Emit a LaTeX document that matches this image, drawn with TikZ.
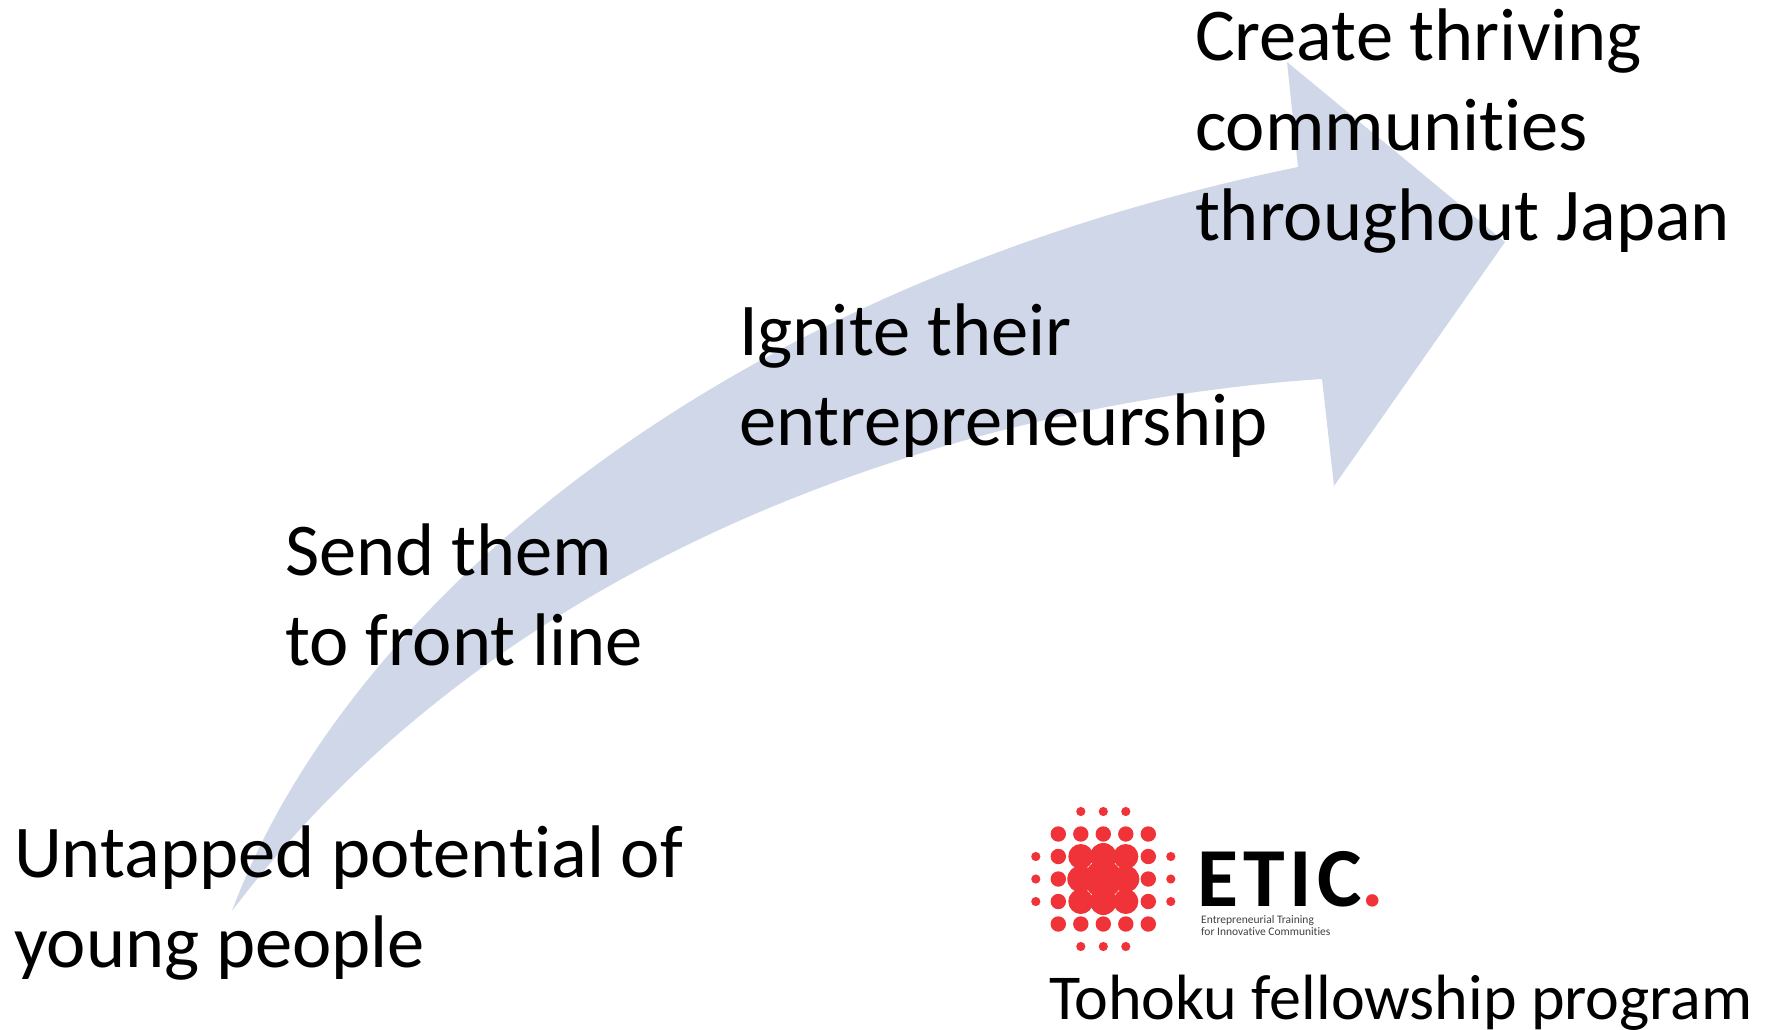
\documentclass[tikz,border=0pt]{standalone}
\usepackage{fontspec}
\setmainfont[Ligatures=NoCommon]{Carlito}
\newfontfamily\logofont[LetterSpace=6]{Carlito}
\definecolor{arrowfill}{HTML}{CFD7E8}
\definecolor{eticred}{HTML}{EF3338}
\tikzset{
  lbl/.style={anchor=base west,inner sep=0pt,outer sep=0pt,font=\fontsize{74.5}{90}\selectfont,text=black},
  dotS/.style={circle,fill=eticred,inner sep=0pt,minimum size=9.2pt},
  dotM/.style={circle,fill=eticred,inner sep=0pt,minimum size=15.4pt},
  dotL/.style={circle,fill=eticred,inner sep=0pt,minimum size=25pt},
  dotX/.style={circle,fill=eticred,inner sep=0pt,minimum size=27pt},
  dotC/.style={circle,fill=eticred,inner sep=0pt,minimum size=38pt},
}
\begin{document}
\begin{tikzpicture}[x=1pt,y=-1pt]
\useasboundingbox (0,0) rectangle (1768,1029);
\clip (0,0) rectangle (1768,1029);
% arrow
\fill[arrowfill] (232,911) .. controls (340,620) and (700,290) .. (1298,167)
  -- (1287,62) -- (1505,242) -- (1334,486) -- (1322,379)
  .. controls (1000,400) and (520,530) .. (232,911) -- cycle;
% texts
\node[lbl] (c1) at (1195,60) {Create thriving};
\node[lbl] (c2) at (1195,150) {communities};
\node[lbl] (c3) at (1195,240) {throughout Japan};
\node[lbl] (i1) at (739,355) {Ignite their};
\node[lbl] (i2) at (739,445) {entrepreneurship};
\node[lbl] (s1) at (285,575) {Send them};
\node[lbl] (s2) at (285,665) {to front line};
\node[lbl] (u1) at (14,877) {Untapped potential of};
\node[lbl] (u2) at (14,967) {young people};
\node[lbl,font=\fontsize{64}{70}\selectfont] (t1) at (1049,1019) {Tohoku fellowship program};
% logo
\begin{scope}[shift={(1103.3,879)},x=22.5pt,y=-22.5pt]
  \foreach \i in {-1,0,1} {
    \node[dotS] at (\i,3) {}; \node[dotS] at (\i,-3) {};
    \node[dotS] at (3,\i) {}; \node[dotS] at (-3,\i) {};
    \node[dotM] at (2,\i) {}; \node[dotM] at (-2,\i) {};
  }
  \foreach \i in {-2,-1,0,1,2} {
    \node[dotM] at (\i,2) {}; \node[dotM] at (\i,-2) {};
  }
  \foreach \i in {-1,1} { \foreach \j in {-1,1} { \node[dotL] at (\i,\j) {}; } }
  \node[dotX] at (0,1) {}; \node[dotX] at (0,-1) {};
  \node[dotX] at (1,0) {}; \node[dotX] at (-1,0) {};
  \node[dotC] at (0,0) {};
\end{scope}
\node[anchor=base west,inner sep=0pt,font={\logofont\bfseries\fontsize{84}{84}\selectfont}] (etic) at (1197,906) {ETIC\textcolor{eticred}{.}};
\node[anchor=base west,inner sep=0pt,text=black!75,font=\fontsize{11.5}{12}\selectfont] (sub) at (1201,923) {Entrepreneurial Training};
\node[anchor=base west,inner sep=0pt,text=black!75,font=\fontsize{11.5}{12}\selectfont] (sub2) at (1201,935) {for Innovative Communities};
\end{tikzpicture}
\end{document}
